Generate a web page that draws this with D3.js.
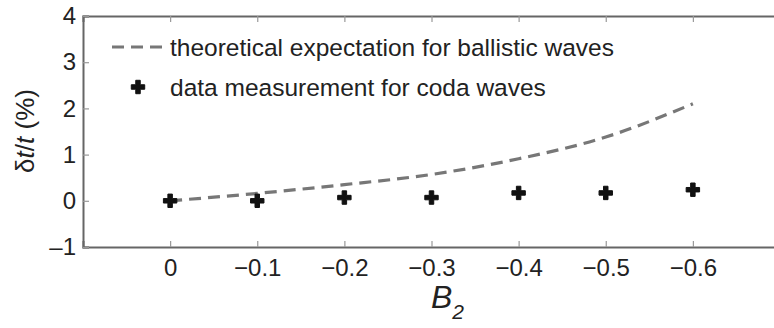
<!DOCTYPE html>
<html>
<head>
<meta charset="utf-8">
<script src="https://cdn.jsdelivr.net/npm/d3@7"></script>
<style>
  body { margin: 0; background: #fff; }
  svg { display: block; font-family: "Liberation Sans", Arial, sans-serif; }
</style>
</head>
<body>
<div id="chart"></div>
<script>
// values
var b2Values = [0, -0.1, -0.2, -0.3, -0.4, -0.5, -0.6];
var theoryValues = [0, 0.16, 0.35, 0.57, 0.91, 1.38, 2.1];
var codaValues = [0, 0, 0.07, 0.07, 0.17, 0.17, 0.24];
var xTickValues = [0, -0.1, -0.2, -0.3, -0.4, -0.5, -0.6];
var yTickValues = [-1, 0, 1, 2, 3, 4];
var legendLabels = ['theoretical expectation for ballistic waves', 'data measurement for coda waves'];

var svgWidth = 774;
var svgHeight = 328;
var margin = { top: 16, right: -6, bottom: 81, left: 83 };
var width = svgWidth - margin.left - margin.right;
var height = svgHeight - margin.top - margin.bottom;

var svg = d3.select('#chart').append('svg')
    .attr('width', svgWidth)
    .attr('height', svgHeight);

var chartGroup = svg.append('g')
    .attr('transform', `translate(${margin.left},${margin.top})`);

var xScale = d3.scaleLinear().domain([0.1, -0.7]).range([0, width]);
var yScale = d3.scaleLinear().domain([-1, 4]).range([height, 0]);

var fmt = function(d) { return d === 0 ? '0' : d3.format('.1f')(d).replace('-', '\u2013'); };
var axisColor = '#666';
var textColor = '#222';

// axes (ticks pointing inward, on all four sides)
var bottomAxis = chartGroup.append('g')
    .attr('transform', `translate(0,${height})`)
    .call(d3.axisBottom(xScale).tickValues(xTickValues).tickSize(-6).tickPadding(12).tickFormat(fmt));
var topAxis = chartGroup.append('g')
    .call(d3.axisTop(xScale).tickValues(xTickValues).tickSize(-6).tickFormat(''));
var leftAxis = chartGroup.append('g')
    .call(d3.axisLeft(yScale).tickValues(yTickValues).tickSize(-6).tickPadding(7).tickFormat(d => d < 0 ? '\u2013' + Math.abs(d) : d));
var rightAxis = chartGroup.append('g')
    .attr('transform', `translate(${width},0)`)
    .call(d3.axisRight(yScale).tickValues(yTickValues).tickSize(-6).tickFormat(''));

[bottomAxis, topAxis, leftAxis, rightAxis].forEach(function(ax) {
    ax.select('.domain').attr('stroke', axisColor).attr('stroke-width', 2);
    ax.selectAll('.tick line').attr('stroke', '#999').attr('stroke-width', 1.2);
    ax.selectAll('text').attr('fill', textColor).attr('font-size', 24)
        .attr('font-family', '"Liberation Sans", Arial, sans-serif');
});

// theoretical curve
var line = d3.line()
    .x((d, i) => xScale(b2Values[i]))
    .y(d => yScale(d))
    .curve(d3.curveMonotoneX);

chartGroup.append('path')
    .datum(theoryValues)
    .attr('d', line)
    .attr('fill', 'none')
    .attr('stroke', '#777')
    .attr('stroke-width', 3.2)
    .attr('stroke-dasharray', '12,7');

// data points
var cross = d3.symbol().type(d3.symbolCross).size(100);
chartGroup.selectAll('.coda')
    .data(codaValues)
    .enter()
    .append('path')
    .attr('class', 'coda')
    .attr('transform', (d, i) => `translate(${xScale(b2Values[i])},${yScale(d)})`)
    .attr('d', cross)
    .attr('fill', '#111')
    .attr('stroke', '#111')
    .attr('stroke-width', 1)
    .attr('stroke-linejoin', 'round');

// legend
var legend = svg.append('g');
legend.append('line')
    .attr('x1', 112).attr('x2', 163).attr('y1', 47).attr('y2', 47)
    .attr('stroke', '#777').attr('stroke-width', 3.2).attr('stroke-dasharray', '12,7');
legend.append('path')
    .attr('transform', 'translate(138,87)')
    .attr('d', cross)
    .attr('fill', '#111').attr('stroke', '#111').attr('stroke-width', 1);
legend.selectAll('.legtext')
    .data(legendLabels)
    .enter()
    .append('text')
    .attr('class', 'legtext')
    .attr('x', 170)
    .attr('y', (d, i) => 56 + i * 40)
    .attr('font-size', 24.5)
    .attr('fill', textColor)
    .text(d => d);

// axis titles
var yTitle = svg.append('text')
    .attr('transform', 'translate(34,131) rotate(-90)')
    .attr('text-anchor', 'middle')
    .attr('font-size', 26)
    .attr('fill', textColor);
yTitle.append('tspan').text('\u03b4');
yTitle.append('tspan').attr('font-style', 'italic').text('t');
yTitle.append('tspan').text('/');
yTitle.append('tspan').attr('font-style', 'italic').text('t');
yTitle.append('tspan').text(' (%)');

var xTitle = svg.append('text')
    .attr('x', 431)
    .attr('y', 308)
    .attr('font-size', 32)
    .attr('fill', textColor);
xTitle.append('tspan').attr('font-style', 'italic').text('B');
xTitle.append('tspan').attr('font-style', 'italic').attr('font-size', 21).attr('dy', 11).text('2');
</script>
</body>
</html>
